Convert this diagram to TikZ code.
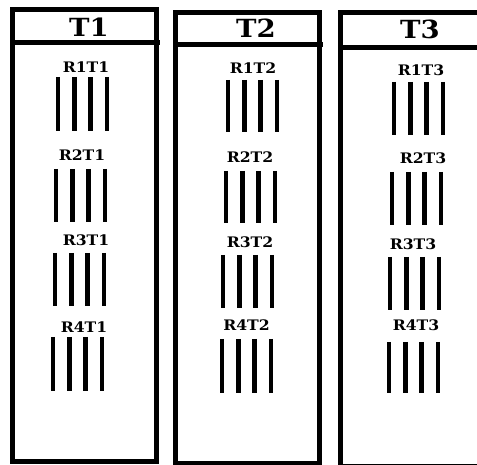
\documentclass[tikz,border=0pt]{standalone}
\usepackage{fontspec}
\setmainfont{DejaVu Serif}
\begin{document}
\begin{tikzpicture}[x=1pt,y=-1pt,
  frame/.style={line width=5pt,line join=miter},
  bar/.style={line width=4.8pt},
  head/.style={inner sep=0pt,font=\fontsize{25}{25}\selectfont\bfseries},
  lab/.style={inner sep=0pt,font=\fontsize{14.5}{14.5}\selectfont\bfseries}]
\useasboundingbox (0,0) rectangle (477,465);
\clip (0,0) rectangle (477,465);
\newcommand\barset[3]{\foreach \k in {0,1,2,3}{\draw[bar] ({#1+16.3*\k},#2) -- ({#1+16.3*\k},#3);}}
% frames
\draw[frame] (12.5,9.5) rectangle (156.5,461.5);
\draw[frame] (12.5,42.5) -- (160,42.5);
\draw[frame] (175,12.5) rectangle (319,463.5);
\draw[frame] (175,44.5) -- (323,44.5);
\draw[frame] (340.5,12.5) rectangle (484,466);
\draw[frame] (340.5,47.5) -- (484,47.5);
% headers
\node[head] (t1) at (89,27) {\scalebox{1.1}[1]{T1}};
\node[head] (t2) at (256,28) {\scalebox{1.1}[1]{T2}};
\node[head] (t3) at (420,29.5) {\scalebox{1.1}[1]{T3}};
% labels
\node[lab] (r1t1) at (86,67.5) {\scalebox{1.08}[1]{R1T1}};
\node[lab] (r2t1) at (82,155) {\scalebox{1.08}[1]{R2T1}};
\node[lab] (r3t1) at (86,240) {\scalebox{1.08}[1]{R3T1}};
\node[lab] (r4t1) at (84,327) {\scalebox{1.08}[1]{R4T1}};
\node[lab] (r1t2) at (253,68.5) {\scalebox{1.08}[1]{R1T2}};
\node[lab] (r2t2) at (250,157) {\scalebox{1.08}[1]{R2T2}};
\node[lab] (r3t2) at (250,242) {\scalebox{1.08}[1]{R3T2}};
\node[lab] (r4t2) at (246.5,325.5) {\scalebox{1.08}[1]{R4T2}};
\node[lab] (r1t3) at (421,70) {\scalebox{1.08}[1]{R1T3}};
\node[lab] (r2t3) at (423,158) {\scalebox{1.08}[1]{R2T3}};
\node[lab] (r3t3) at (413,244) {\scalebox{1.08}[1]{R3T3}};
\node[lab] (r4t3) at (416,325) {\scalebox{1.08}[1]{R4T3}};
% bars
\barset{58}{77}{131}
\barset{56}{169}{222}
\barset{55}{253}{306}
\barset{53}{337}{391}
\barset{228}{80}{132}
\barset{226}{171}{223}
\barset{223}{255}{308}
\barset{222}{339}{393}
\barset{394}{82}{135}
\barset{392}{172}{225}
\barset{390}{257}{310}
\barset{389}{342}{393}
\end{tikzpicture}
\end{document}
